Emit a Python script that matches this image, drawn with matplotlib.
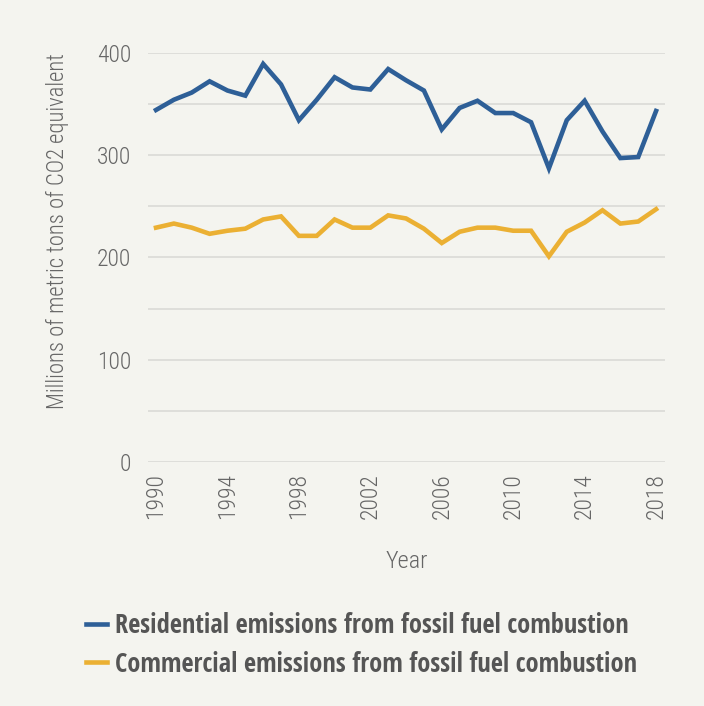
import numpy as np
import matplotlib
matplotlib.use("Agg")
import matplotlib.pyplot as plt
from matplotlib import font_manager
from matplotlib.lines import Line2D

years = list(range(1990, 2019))
residential = [344, 354, 361, 372, 363, 358, 389, 369, 334, 354, 376, 366, 364, 384, 373,
               363, 325, 346, 353, 341, 341, 332, 287, 334, 353, 323, 297, 298, 343]
commercial = [229, 233, 229, 223, 226, 228, 237, 240, 221, 221, 237, 229, 229, 241, 238,
              228, 214, 225, 229, 229, 226, 226, 201, 225, 234, 246, 233, 235, 247]
series_labels = ["Residential emissions from fossil fuel combustion",
                 "Commercial emissions from fossil fuel combustion"]
xticks = list(range(1990, 2019, 4))
yticks = [0, 100, 200, 300, 400]


def find_font(choices):
    # choices: list of (family name, weight); first match wins
    for name, weight in choices:
        for f in font_manager.fontManager.ttflist:
            if f.name == name and f.weight == weight and f.style == "normal":
                return font_manager.FontProperties(fname=f.fname)
    return font_manager.FontProperties(family="DejaVu Sans")


light = find_font([("Open Sans Condensed Light", 300), ("Open Sans Condensed", 300),
                   ("Open Sans Condensed Light", 400), ("Roboto Condensed", 300),
                   ("Barlow Semi Condensed", 300)])
bold = find_font([("Open Sans Condensed", 700), ("Roboto Condensed", 700),
                  ("Barlow Semi Condensed", 600)])

bg = "#f4f4ef"
blue = "#2e5f97"
yellow = "#ebb033"
grey = "#666666"

fig = plt.figure(figsize=(7.04, 7.06), dpi=100, facecolor=bg)
ax = fig.add_axes([0.2102, 0.3456, 0.7344, 0.5798], facecolor=bg)

ax.plot(years, residential, color=blue, lw=3.3, solid_joinstyle="miter")
ax.plot(years, commercial, color=yellow, lw=3.3, solid_joinstyle="miter")

ax.set_xlim(1989.55, 2018.5)
ax.set_ylim(0, 400)
ax.set_yticks(np.arange(0, 401, 50))
ax.set_yticklabels([str(v) if v in yticks else "" for v in np.arange(0, 401, 50)])
ax.set_xticks(xticks)
ax.set_xticklabels([str(x) for x in xticks], rotation=90)
ax.grid(axis="y", color="#dcdcd8", lw=1.3)
ax.set_axisbelow(True)
for s in ax.spines.values():
    s.set_visible(False)
ax.tick_params(length=0, colors=grey, pad=12)
ax.tick_params(axis="x", pad=8)
for t in ax.get_xticklabels() + ax.get_yticklabels():
    t.set_fontproperties(light)
    t.set_fontsize(17)

ax.set_ylabel("Millions of metric tons of CO2 equivalent", fontproperties=light,
              fontsize=16.3, color=grey)
ax.yaxis.set_label_coords(-0.152, 0.565)
ax.set_xlabel("Year", fontproperties=light, fontsize=17.5, color=grey)
ax.xaxis.set_label_coords(0.5, -0.215)

handles = [Line2D([], [], color=blue, lw=3.3), Line2D([], [], color=yellow, lw=3.3)]
bold.set_size(19)
leg = fig.legend(handles, series_labels, loc="upper left", bbox_to_anchor=(0.088, 0.167),
                 frameon=False, handlelength=0.8, handletextpad=0.3, labelspacing=0.45,
                 prop=bold)
for t in leg.get_texts():
    t.set_color("#555555")

fig.savefig("out.png", dpi=100, facecolor=bg)
